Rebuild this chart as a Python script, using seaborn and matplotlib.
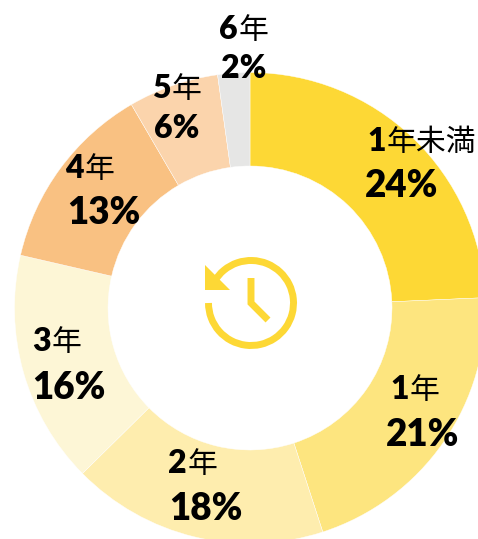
import numpy as np
import seaborn as sns
import matplotlib.pyplot as plt
from matplotlib.patches import Arc, Polygon

# 勤続年数の構成比
years = ['1', '1', '2', '3', '4', '5', '6']
suffixes = ['年未満', '年', '年', '年', '年', '年', '年']
shares = [24.3, 20.7, 17.6, 16.0, 13.0, 6.2, 2.2]
share_labels = ['24%', '21%', '18%', '16%', '13%', '6%', '2%']
colors = ['#FDD835', '#FDE57F', '#FEEDAE', '#FDF6D6', '#F9C182', '#FBD4AC', '#E6E6E5']

# label anchors in image pixels (left, baseline)
name_pos = [(367, 151), (390, 399), (168, 473), (32, 351), (65, 178), (152, 98), (219, 39)]
pct_pos = [(365, 197), (386, 446), (169, 520), (32, 399), (67, 224), (154, 138), (221, 78)]
pct_sizes = [26.5, 26.5, 26.5, 26.5, 26.5, 23, 23]

WIDTH, HEIGHT = 478, 539
ICON = '#FDD835'

sns.set_theme(style='white')

fig = plt.figure(figsize=(WIDTH / 100, HEIGHT / 100), dpi=100)
ax = fig.add_axes([0, 0, 1, 1])

ax.pie(shares, colors=sns.color_palette(colors), startangle=90, counterclock=False,
       radius=235.5, center=(250, HEIGHT - 308),
       wedgeprops=dict(width=93.5, edgecolor='white', linewidth=0.3))
ax.set_xlim(0, WIDTH)
ax.set_ylim(0, HEIGHT)
ax.set_aspect('equal')
ax.axis('off')


def flip(y):
    return HEIGHT - y


# 中央の時計アイコン
ax.add_patch(Arc((251, flip(303)), 85, 85, theta1=-180, theta2=150, color=ICON, lw=5))
ax.add_patch(Polygon([(205, flip(265)), (205, flip(290)), (230, flip(290))], closed=True,
                     facecolor=ICON, edgecolor='none'))
ax.plot([251, 251, 268], [flip(278), flip(303), flip(320)], color=ICON, lw=5,
        solid_joinstyle='miter', solid_capstyle='butt')

renderer = fig.canvas.get_renderer()
for year, suffix, label, size, (nx, ny), (px, py) in zip(years, suffixes, share_labels, pct_sizes, name_pos, pct_pos):
    t = ax.text(nx, flip(ny), year, fontsize=23, fontweight='heavy', color='black',
                family='Lato', va='baseline', ha='left')
    w = t.get_window_extent(renderer).width
    ax.text(nx + w + 1, flip(ny), suffix, fontsize=21.5, color='black',
            family='Noto Sans CJK JP', va='baseline', ha='left')
    ax.text(px, flip(py), label, fontsize=size, fontweight='heavy', color='black',
            family='Lato', va='baseline', ha='left')

fig.savefig('out.png', dpi=100)
